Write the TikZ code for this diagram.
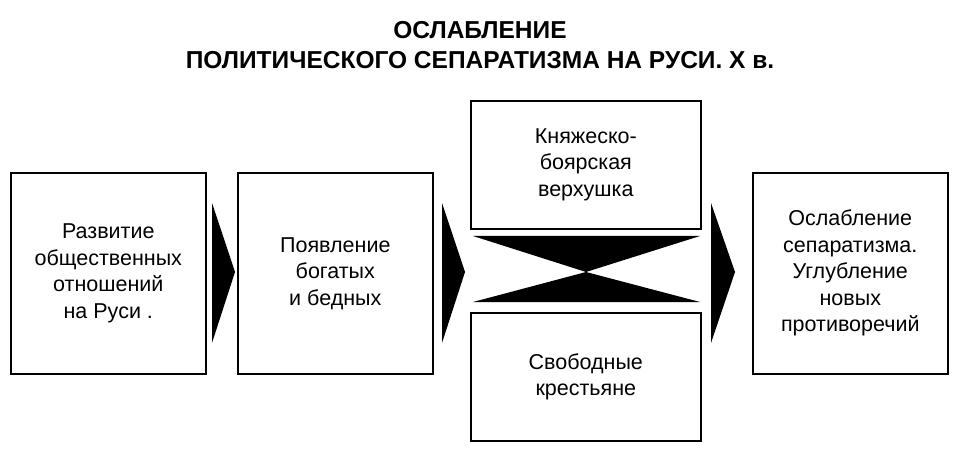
\documentclass[tikz,border=0pt]{standalone}
\usepackage{fontspec}
\setmainfont{Liberation Sans}
\usetikzlibrary{positioning}

\begin{document}
\begin{tikzpicture}[
    x=1pt, y=-1pt,
    every node/.style={font=\fontsize{21.5}{26.5}\selectfont},
    box/.style={draw, line width=1.6pt, minimum width=195pt, minimum height=201pt, align=center, anchor=north west},
    midbox/.style={draw, line width=1.6pt, minimum width=230pt, minimum height=128pt, align=center, anchor=north west},
    tip/.style={fill=black}
]
\useasboundingbox (0,0) rectangle (960,454);

% заголовок
\node[font=\bfseries\fontsize{24.5}{30}\selectfont, align=center] (title) at (480,45)
    {ОСЛАБЛЕНИЕ\\ПОЛИТИЧЕСКОГО СЕПАРАТИЗМА НА РУСИ. X в.};

% блоки
\node[box] (dev) at (10,172) {Развитие\\общественных\\отношений\\на Руси .};
\node[box] (rich) at (237,172) {Появление\\богатых\\и бедных};
\node[midbox] (top) at (470,100) {Княжеско-\\боярская\\верхушка};
\node[midbox] (bottom) at (470,312) {Свободные\\крестьяне};
\node[box] (res) at (752,172) {Ослабление\\сепаратизма.\\Углубление\\новых\\противоречий};

% стрелки
\fill[tip] (212,203) -- (235,272) -- (212,343) -- cycle;
\fill[tip] (442,203) -- (465,272) -- (442,343) -- cycle;
\fill[tip] (711,203) -- (735,272) -- (711,343) -- cycle;

% перекрестье
\fill[tip] (473,236) -- (700,236) -- (586,272) -- cycle;
\fill[tip] (473,302) -- (700,302) -- (586,272) -- cycle;

\end{tikzpicture}
\end{document}
